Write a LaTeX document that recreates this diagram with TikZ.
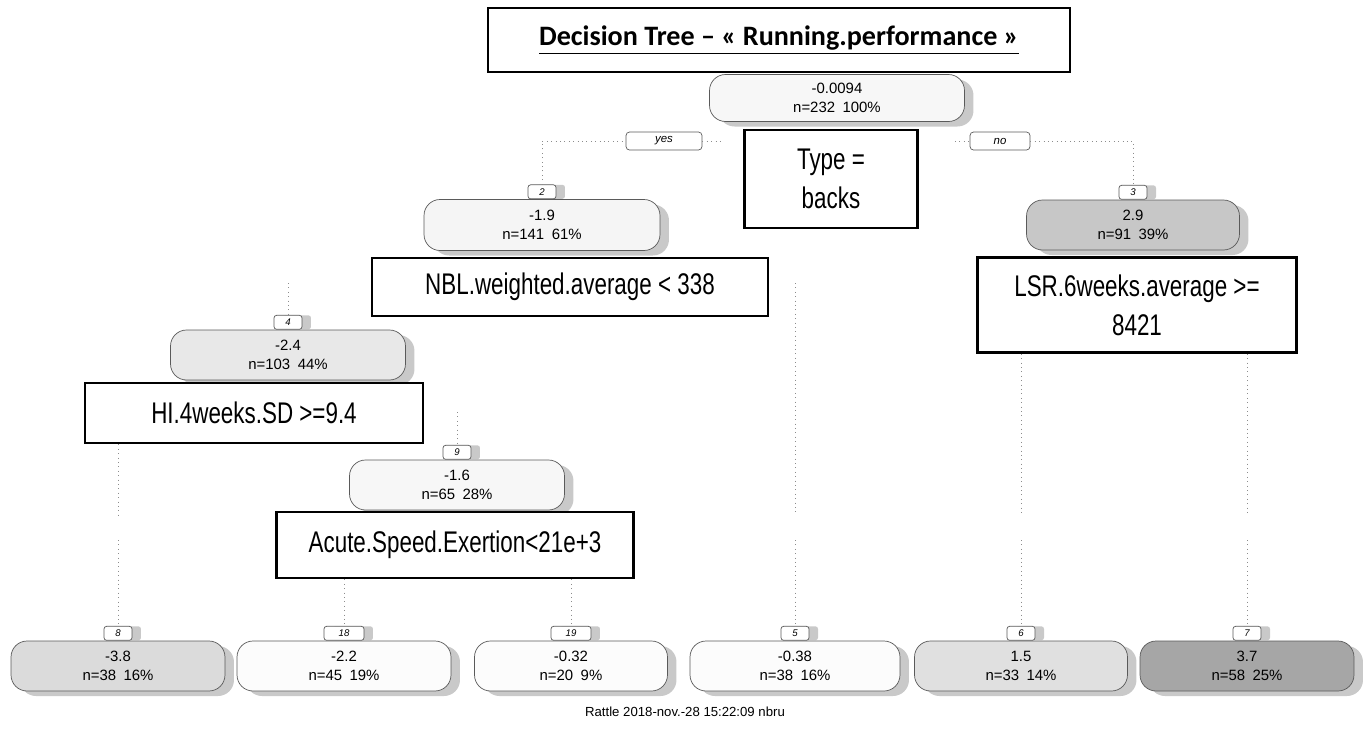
\documentclass[tikz,border=0pt]{standalone}
\usepackage{fontspec}
\setmainfont{Liberation Sans}
\newfontfamily\condfont[FakeStretch=0.75]{Liberation Sans}
\newfontfamily\titlefont{Carlito}
\usepackage{tikz}
\usetikzlibrary{shadows, positioning}
\definecolor{edgegray}{RGB}{90, 90, 90}

\begin{document}
\begin{tikzpicture}[
  x=0.02cm, y=-0.02cm,
  every node/.style={font=\fontsize{8.5}{10.5}\selectfont},
  leaf/.style={draw=edgegray, rounded corners=0.32cm, minimum width=4.28cm, minimum height=1.0cm, align=center, inner sep=2pt, drop shadow={shadow xshift=0.18cm, shadow yshift=-0.1cm, fill=black!30, opacity=0.7}},
  tag/.style={draw=edgegray, fill=white, rounded corners=1.5pt, minimum width=0.56cm, minimum height=0.28cm, inner sep=0pt, anchor=south, font=\fontsize{5.5}{5.5}\selectfont\itshape, drop shadow={shadow xshift=0.18cm, shadow yshift=0cm, fill=black!30, opacity=0.7}},
  side/.style={draw=edgegray, fill=white, rounded corners=2pt, minimum width=1.52cm, minimum height=0.36cm, inner sep=0pt, font=\fontsize{6.5}{6.5}\selectfont\itshape},
  cond/.style={draw=black, line width=1.6pt, fill=white, align=center, inner sep=2pt, font=\condfont\fontsize{17}{22}\selectfont},
  link/.style={draw=black!45, dotted, line width=0.5pt}
]
  \useasboundingbox (0,0) rectangle (1367,731);

  % title
  \node[draw=black, line width=1.6pt, minimum width=11.64cm, minimum height=1.28cm] (title) at (779,40) {\titlefont\fontsize{16}{18}\selectfont\bfseries\underline{Decision Tree \textendash{} « Running.performance »}};

  % split nodes
  \node[leaf, fill=black!3, minimum width=5.1cm, minimum height=0.94cm] (root) at (837,98) {-0.0094\\n=232\enspace 100\%};
  \node[leaf, fill=black!4, minimum width=4.72cm, minimum height=1.02cm] (n2) at (542,225) {-1.9\\n=141\enspace 61\%};
  \node[leaf, fill=black!22, minimum width=4.26cm, minimum height=1.0cm] (n3) at (1133,225) {2.9\\n=91\enspace 39\%};
  \node[leaf, fill=black!9, minimum width=4.7cm] (n4) at (288,355) {-2.4\\n=103\enspace 44\%};
  \node[leaf, fill=black!3, minimum width=4.3cm] (n9) at (457,485) {-1.6\\n=65\enspace 28\%};

  % leaves
  \node[leaf, fill=black!14] (n8) at (118,666) {-3.8\\n=38\enspace 16\%};
  \node[leaf, fill=black!1] (n18) at (344,666) {-2.2\\n=45\enspace 19\%};
  \node[leaf, fill=black!1, minimum width=3.86cm] (n19) at (571,666) {-0.32\\n=20\enspace 9\%};
  \node[leaf, fill=black!1, minimum width=4.2cm] (n5) at (795,666) {-0.38\\n=38\enspace 16\%};
  \node[leaf, fill=black!12, minimum width=4.26cm] (n6) at (1021,666) {1.5\\n=33\enspace 14\%};
  \node[leaf, fill=black!35] (n7) at (1247,666) {3.7\\n=58\enspace 25\%};

  % node numbers
  \node[tag] (t2) at (n2.north) {2};
  \node[tag] (t3) at (n3.north) {3};
  \node[tag] (t4) at (n4.north) {4};
  \node[tag] (t9) at (n9.north) {9};
  \node[tag] (t8) at (n8.north) {8};
  \node[tag, minimum width=0.8cm] (t18) at (n18.north) {18};
  \node[tag, minimum width=0.8cm] (t19) at (n19.north) {19};
  \node[tag] (t5) at (n5.north) {5};
  \node[tag] (t6) at (n6.north) {6};
  \node[tag] (t7) at (n7.north) {7};

  % yes / no
  \node[side] (yes) at (664,141) {yes};
  \node[side, minimum width=1.2cm] (no) at (1000,141) {no};

  % split rules
  \node[cond, minimum width=3.46cm, minimum height=1.96cm] (type) at (831,179) {Type =\\backs};
  \node[cond, minimum width=7.92cm, minimum height=1.16cm] (nbl) at (570,287) {NBL.weighted.average < 338};
  \node[cond, minimum width=6.38cm, minimum height=1.9cm] (lsr) at (1137,305) {LSR.6weeks.average >=\\8421};
  \node[cond, minimum width=6.76cm, minimum height=1.2cm] (hi) at (254,413) {HI.4weeks.SD >=9.4};
  \node[cond, minimum width=7.14cm, minimum height=1.32cm] (acute) at (455,545) {Acute.Speed.Exertion<21e+3};

  % loose ends of the connectors
  \coordinate (yesend) at (722,141);
  \coordinate (noend) at (955,141);
  \coordinate (top4) at (288,283);
  \coordinate (top9) at (457,412);
  \coordinate (top5) at (795,283);
  \foreach \x/\n in {118/8, 795/5, 1021/6, 1247/7} {
    \coordinate (up\n) at (\x,515);
    \coordinate (lo\n) at (\x,540);
  }

  % connectors
  \draw[link] (t2.north) |- (yes.west);
  \draw[link] (yes.east) -- (yesend);
  \draw[link] (noend) -- (no.west);
  \draw[link] (no.east) -| (t3.north);
  \draw[link] (top4) -- (t4.north);
  \draw[link] (top9) -- (t9.north);
  \draw[link] (t8.north |- hi.south) -- (up8);
  \draw[link] (lo8) -- (t8.north);
  \draw[link] (t18.north |- acute.south) -- (t18.north);
  \draw[link] (t19.north |- acute.south) -- (t19.north);
  \draw[link] (top5) -- (up5);
  \draw[link] (lo5) -- (t5.north);
  \draw[link] (t6.north |- lsr.south) -- (up6);
  \draw[link] (lo6) -- (t6.north);
  \draw[link] (t7.north |- lsr.south) -- (up7);
  \draw[link] (lo7) -- (t7.north);

  % footer
  \node[font=\fontsize{7.5}{9}\selectfont] (stamp) at (685,712) {Rattle 2018-nov.-28 15:22:09 nbru};

\end{tikzpicture}
\end{document}
